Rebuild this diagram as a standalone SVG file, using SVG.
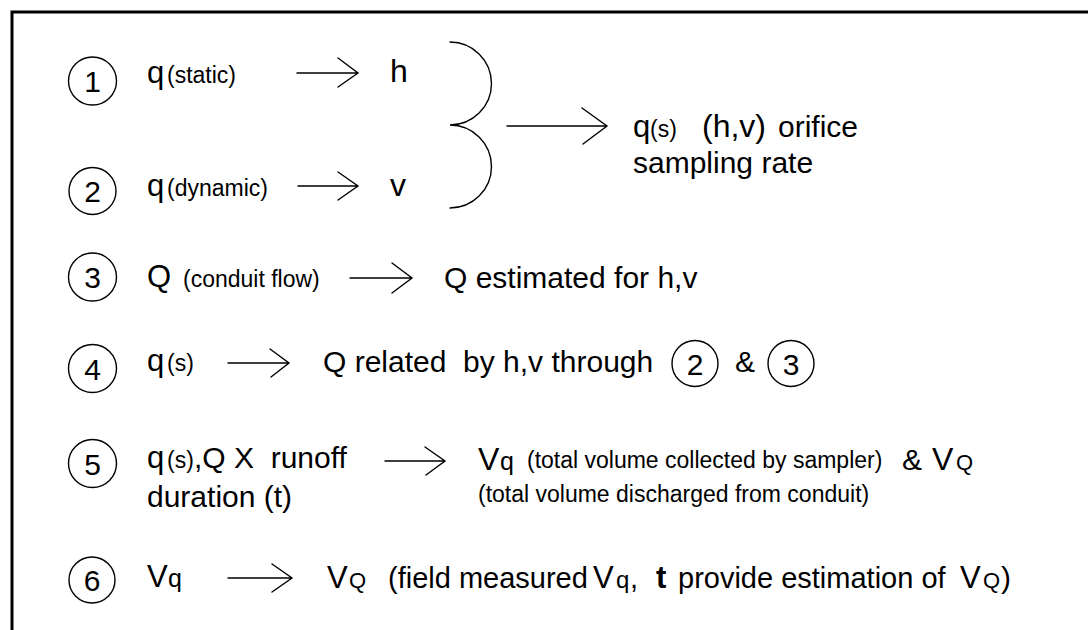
<svg xmlns="http://www.w3.org/2000/svg" width="1088" height="630" viewBox="0 0 1088 630">
<style>
text{font-family:"Liberation Sans",Arial,sans-serif;fill:#000;white-space:pre}
.c{fill:none;stroke:#000;stroke-width:1.4}
.d{font-size:30px;text-anchor:middle}
.a{fill:none;stroke:#000;stroke-width:1.4;stroke-linecap:round;stroke-linejoin:miter}
.L{font-size:30px}
.M{font-size:29px}
.B{font-size:31px}
.s{font-size:23px}
.frame{fill:none;stroke:#000;stroke-width:3}
</style>
<rect width="1088" height="630" fill="#fff"/>
<path class="frame" d="M12,630 V12 H1088"/>

<g id="n1">
<circle class="c" cx="92.5" cy="81" r="24"/><text class="d" x="92.5" y="92">1</text>
<text x="147" y="83"><tspan class="B">q</tspan><tspan class="s" x="167" font-size="22">(static)</tspan></text>
</g>
<g id="n1h"><text x="390" y="82" font-size="32">h</text></g>

<g id="n2">
<circle class="c" cx="92.5" cy="191" r="23.5"/><text class="d" x="92.5" y="202">2</text>
<text x="147" y="196"><tspan class="B">q</tspan><tspan class="s" x="167">(dynamic)</tspan></text>
</g>
<g id="n2v"><text x="390" y="196" font-size="32">v</text></g>

<g id="nqs">
<text x="633" y="137"><tspan class="B">q</tspan><tspan class="s" x="650" font-size="22">(s)</tspan><tspan x="702" font-size="32">(h,v)</tspan><tspan x="778" font-size="30">orifice</tspan></text>
<text class="L" x="633" y="173">sampling rate</text>
</g>

<g id="n3">
<circle class="c" cx="92.5" cy="277" r="24"/><text class="d" x="92.5" y="288">3</text>
<text x="147" y="287"><tspan class="B">Q</tspan><tspan class="s" x="183">(conduit flow)</tspan></text>
</g>
<g id="n3r"><text class="L" x="444" y="288">Q estimated for h,v</text></g>

<g id="n4">
<circle class="c" cx="92.5" cy="368.5" r="24"/><text class="d" x="92.5" y="379.5">4</text>
<text x="147" y="371"><tspan class="B">q</tspan><tspan class="s" x="167">(s)</tspan></text>
</g>
<g id="n4r">
<text class="L" x="323" y="372">Q related  by h,v through</text>
<circle class="c" cx="695" cy="363.5" r="23"/><text class="d" x="695" y="374.5">2</text>
<text class="L" x="735" y="372">&amp;</text>
<circle class="c" cx="791" cy="363.5" r="23"/><text class="d" x="791" y="374.5">3</text>
</g>

<g id="n5">
<circle class="c" cx="92.5" cy="463.5" r="24"/><text class="d" x="92.5" y="474.5">5</text>
<text x="147" y="468"><tspan class="B">q</tspan><tspan class="s" x="167">(s)</tspan><tspan class="L" x="194">,Q X  runoff</tspan></text>
<text class="L" x="147" y="507">duration (t)</text>
</g>
<g id="n5r">
<text x="478" y="470"><tspan font-size="32">V</tspan><tspan x="500" font-size="25">q</tspan><tspan class="s" x="527" y="468">(total volume collected by sampler)</tspan><tspan class="L" x="902" y="470">&amp;</tspan><tspan x="932" font-size="32">V</tspan><tspan x="956" font-size="22">Q</tspan></text>
<text class="s" x="478" y="502">(total volume discharged from conduit)</text>
</g>

<g id="n6">
<circle class="c" cx="92" cy="580" r="23"/><text class="d" x="92" y="591">6</text>
<text x="147" y="587"><tspan font-size="31">V</tspan><tspan x="168" font-size="25">q</tspan></text>
</g>
<g id="n6r">
<text x="327" y="588"><tspan font-size="31">V</tspan><tspan x="349" font-size="22">Q</tspan><tspan class="M" x="388">(field measured</tspan><tspan x="593" font-size="31">V</tspan><tspan x="616" font-size="24">q</tspan><tspan class="M" x="630">,</tspan><tspan x="656" font-size="31" font-weight="bold">t</tspan><tspan class="M" x="678">provide estimation of</tspan><tspan x="960" font-size="31">V</tspan><tspan x="983" font-size="22">Q</tspan><tspan class="L" x="1001">)</tspan></text>
</g>

<g id="connectors">
<path class="a" d="M297,73 H358 M338,58 L358,73 L338,87"/>
<path class="a" d="M298,186 H358 M338,172 L358,186 L338,200"/>
<path class="a" d="M450,42 A41.5,41.5 0 0 1 450,125 A41.5,41.5 0 0 1 450,208"/>
<path class="a" d="M507,126 H607 M582,108 L607,126 L583,144"/>
<path class="a" d="M350,278 H412 M392,263 L412,278 L392,293"/>
<path class="a" d="M228,363 H289 M270,349 L289,363 L271,377"/>
<path class="a" d="M385,461 H445 M425,447 L445,461 L426,475"/>
<path class="a" d="M228,578 H292 M272,564 L292,578 L272,592"/>
</g>
</svg>
